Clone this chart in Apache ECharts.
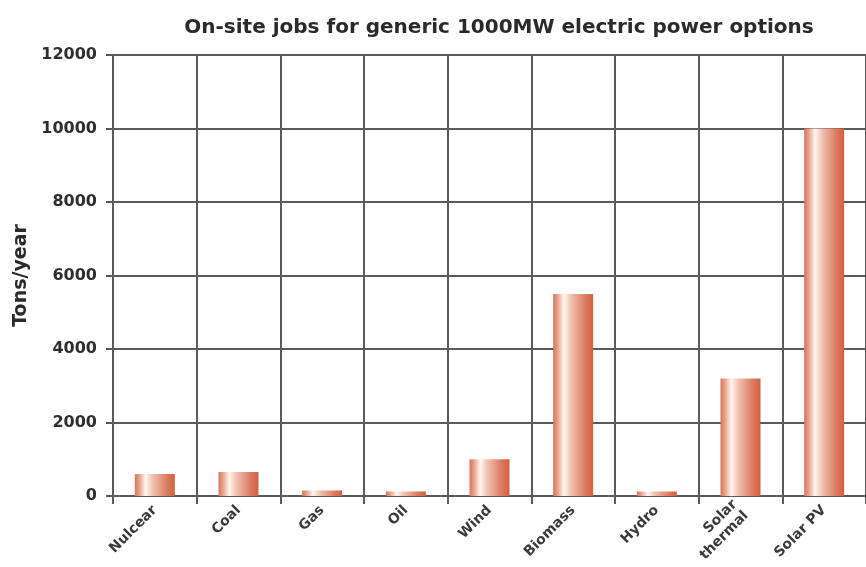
<!DOCTYPE html>
<html>
<head>
<meta charset="utf-8">
<script src="https://cdn.jsdelivr.net/npm/echarts@6/dist/echarts.min.js"></script>
<style>
  html, body { margin: 0; padding: 0; background: #fff; }
  #chart { width: 866px; height: 567px; }
</style>
</head>
<body>
<div id="chart"></div>
<script>
// Power options along the x axis
const categories = ['Nulcear', 'Coal', 'Gas', 'Oil', 'Wind', 'Biomass', 'Hydro', 'Solar\nthermal', 'Solar PV'];
// On-site jobs per option (values on the Tons/year axis)
const jobs = [600, 650, 150, 120, 1000, 5500, 120, 3200, 10000];
// Value axis range and step
const yMin = 0;
const yMax = 12000;
const yStep = 2000;

const chart = echarts.init(document.getElementById('chart'), null, { renderer: 'canvas' });

// Copper-toned cylinder look: dark edge, bright highlight, darker right side
const barFill = new echarts.graphic.LinearGradient(0, 0, 1, 0, [
  { offset: 0, color: '#d6735a' },
  { offset: 0.12, color: '#e9a58f' },
  { offset: 0.27, color: '#fff6f0' },
  { offset: 0.45, color: '#f0c2b0' },
  { offset: 0.8, color: '#dc7b62' },
  { offset: 1, color: '#d3603f' }
]);

const gridColor = '#5a5a5a';
const font = '"DejaVu Sans", "Open Sans", sans-serif';

chart.setOption({
  backgroundColor: '#ffffff',
  animation: false,
  title: {
    text: 'On-site jobs for generic 1000MW electric power options',
    left: 494,
    textAlign: 'center',
    top: 13,
    textStyle: { fontFamily: font, fontWeight: 'bold', fontSize: 20, color: '#2a2a2a' }
  },
  grid: { left: 113, top: 55, width: 756, height: 441, containLabel: false },
  xAxis: {
    type: 'category',
    data: categories,
    boundaryGap: true,
    axisLine: { show: true, lineStyle: { color: gridColor, width: 2 } },
    axisTick: { show: true, length: 8, lineStyle: { color: gridColor, width: 2 } },
    splitLine: { show: true, lineStyle: { color: gridColor, width: 2 } },
    axisLabel: {
      rotate: 45,
      interval: 0,
      margin: 12,
      fontFamily: font,
      fontWeight: 'bold',
      fontSize: 14,
      color: '#3a3a3a',
      lineHeight: 16
    }
  },
  yAxis: {
    type: 'value',
    min: yMin,
    max: yMax,
    interval: yStep,
    name: 'Tons/year',
    nameLocation: 'middle',
    nameGap: 82,
    nameTextStyle: { fontFamily: font, fontWeight: 'bold', fontSize: 19, color: '#2a2a2a' },
    axisLine: { show: true, lineStyle: { color: gridColor, width: 2 } },
    axisTick: { show: true, length: 7, lineStyle: { color: gridColor, width: 2 } },
    splitLine: { show: true, lineStyle: { color: gridColor, width: 2 } },
    axisLabel: {
      margin: 16,
      fontFamily: font,
      fontWeight: 'bold',
      fontSize: 16,
      color: '#2e2e2e',
      formatter: (v) => String(v)
    }
  },
  series: [{
    type: 'bar',
    data: jobs,
    barWidth: 40,
    itemStyle: { color: barFill },
    z: 3
  }]
});
</script>
</body>
</html>
